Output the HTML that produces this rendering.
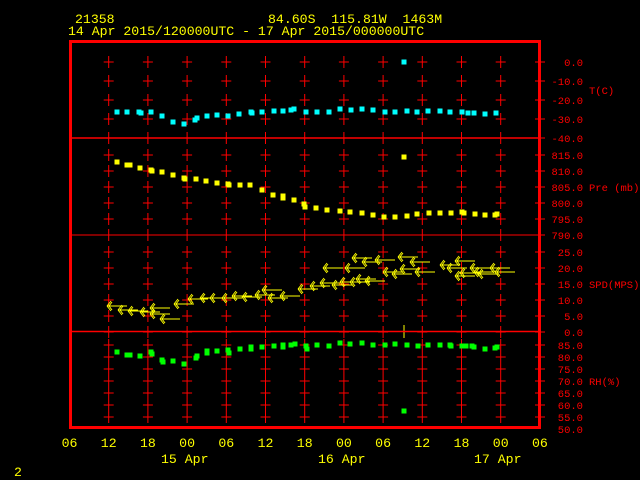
<!DOCTYPE html>
<html><head><meta charset="utf-8"><style>
html,body{margin:0;padding:0;background:#000;width:640px;height:480px;overflow:hidden}
svg{display:block}
text{font-family:"Liberation Mono","DejaVu Sans Mono",monospace;font-size:13.2px;white-space:pre}
#lab text{font-size:10.5px}
</style></head><body>
<svg id="s" width="640" height="480" xmlns="http://www.w3.org/2000/svg">
<g fill="#ffff00">
<text x="75" y="23">21358</text>
<text x="268" y="23">84.60S&#160;&#160;115.81W&#160;&#160;1463M</text>
<text x="68" y="35">14 Apr 2015/120000UTC - 17 Apr 2015/000000UTC</text>
<text x="14" y="476">2</text>
<text x="161" y="463">15 Apr</text>
<text x="318" y="463">16 Apr</text>
<text x="474" y="463">17 Apr</text>
</g>
<g id="grid" stroke="#ff0000" stroke-width="1"></g>
<g id="data"></g>
<rect x="70.5" y="41.5" width="469" height="386" fill="none" stroke="#ff0000" stroke-width="3"/>
<g stroke="#ff0000" stroke-width="1.5">
<line x1="70" y1="138" x2="540" y2="138"/>
<line x1="70" y1="331.5" x2="540" y2="331.5"/>
</g>
<line x1="70" y1="235" x2="540" y2="235" stroke="#ff0000" stroke-width="1"/>
<g id="lab" fill="#ff0000"></g>
<g id="bl" fill="#ffff00"></g>
</svg>
<script>
var NS="http://www.w3.org/2000/svg";
function el(p,t,a,txt){var e=document.createElementNS(NS,t);for(var k in a)e.setAttribute(k,a[k]);if(txt!=null)e.textContent=txt;document.getElementById(p).appendChild(e);return e;}
var xs=[];for(var i=0;i<11;i++)xs.push(108.7+39.2*i);
var T=[["0.0",62],["-10.0",81],["-20.0",100],["-30.0",119],["-40.0",138]];
var P=[["815.0",155],["810.0",171],["805.0",187],["800.0",203],["795.0",219],["790.0",235]];
var S=[["25.0",252],["20.0",268],["15.0",284],["10.0",300],["5.0",316],["0.0",332]];
var R=[["85.0",345],["80.0",357],["75.0",369],["70.0",381],["65.0",393],["60.0",405],["55.0",417],["50.0",429]];
var all=T.concat(P,S,R);
all.forEach(function(t){var y=t[1];
 if(y>45&&y<426){xs.concat([540]).forEach(function(x){
   el("grid","line",{x1:x-5,y1:y,x2:x+5,y2:y});
   el("grid","line",{x1:x,y1:y-6,x2:x,y2:y+6});});}
 el("lab","text",{x:583,y:y+4,"text-anchor":"end"},t[0]);
});
el("lab","text",{x:589,y:94},"T(C)");
el("lab","text",{x:589,y:191},"Pre (mb)");
el("lab","text",{x:589,y:288},"SPD(MPS)");
el("lab","text",{x:589,y:385},"RH(%)");
var hl=["06","12","18","00","06","12","18","00","06","12","18","00","06"];
hl.forEach(function(h,i){el("bl","text",{x:69.5+39.2*i,y:447,"text-anchor":"middle"},h);});
function sq(x,y,c){el("data","rect",{x:x-2.5,y:y-2.5,width:5,height:5,fill:c});}
var tn=[[117,112],[127,112],[139,112],[141,113],[151,112],[162,116],[173,122],[184,124],[195,120],[197,118],[207,116],[217,115],[228,116],[239,114],[251,112],[252,113],[262,112],[274,111],[283,111],[291,110],[294,109],[306,112],[317,112],[329,112],[340,109],[351,110],[362,109],[373,110],[385,112],[395,112],[407,111],[417,112],[428,111],[440,111],[450,112],[462,112],[468,113],[474,113],[485,114],[496,113]];
tn.forEach(function(p){sq(p[0],p[1],"#00ffff");});sq(404,62,"#00ffff");
var pn=[[117,162],[127,165],[130,165],[140,168],[151,170],[152,171],[162,172],[173,175],[184,178],[185,179],[196,179],[206,181],[217,183],[228,184],[229,185],[240,185],[250,185],[262,190],[273,195],[283,196],[283,198],[294,200],[304,204],[305,207],[316,208],[327,210],[340,211],[350,212],[362,213],[373,215],[384,217],[395,217],[407,216],[417,214],[429,213],[440,213],[451,213],[462,212],[464,213],[475,214],[485,215],[495,215],[497,214]];
pn.forEach(function(p){sq(p[0],p[1],"#ffff00");});sq(404,157,"#ffff00");
var rn=[[117,352],[127,355],[130,355],[140,356],[151,352],[152,354],[162,360],[163,362],[173,361],[184,364],[196,358],[197,356],[207,353],[207,351],[217,351],[228,350],[229,353],[240,349],[251,347],[251,349],[262,347],[274,346],[283,347],[283,345],[291,345],[295,344],[306,346],[307,349],[317,345],[329,346],[340,343],[350,344],[362,343],[373,345],[385,345],[395,344],[407,345],[418,346],[428,345],[440,345],[450,345],[451,346],[462,346],[466,346],[472,346],[474,347],[485,349],[495,348],[497,347]];
rn.forEach(function(p){sq(p[0],p[1],"#00ff00");});sq(404,411,"#00ff00");
el("data","line",{x1:404,y1:325,x2:404,y2:338,stroke:"#ffff00","stroke-width":1});
var w=[[107,306],[118,310],[128,311],[140,312],[150,314],[160,319],[150,308],[174,304],[188,299],[200,298],[210,298],[222,298],[232,296],[242,297],[255,295],[262,290],[268,298],[280,296],[298,289],[310,286],[320,283],[332,285],[340,282],[350,282],[356,279],[365,281],[383,272],[392,274],[400,269],[415,272],[440,265],[447,268],[455,276],[460,273],[470,268],[474,272],[478,274],[490,268],[495,272],[352,258],[362,262],[375,260],[398,257],[345,268],[323,268],[410,262],[455,261]];
w.forEach(function(p){var x=p[0],y=p[1];
 el("data","path",{d:"M"+x+" "+y+"h20M"+x+" "+y+"l4 -5M"+x+" "+y+"l4 5M"+(x+2)+" "+y+"l3 -4M"+(x+2)+" "+y+"l3 4",stroke:"#ffff00","stroke-width":1,fill:"none"});});
</script>
</body></html>
